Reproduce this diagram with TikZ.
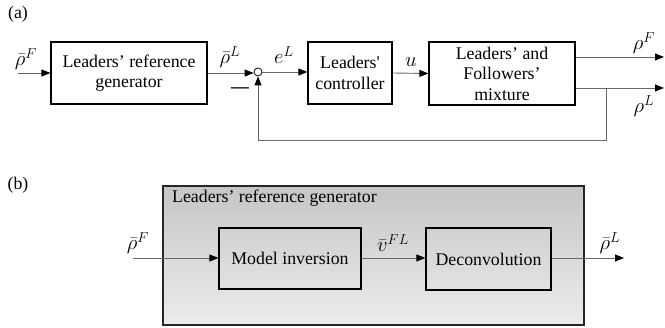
\documentclass[tikz,border=0pt]{standalone}
\usepackage{fontspec}
\setmainfont{Liberation Serif}
\usetikzlibrary{arrows.meta}
\begin{document}
\begin{tikzpicture}[x=1pt,y=-1pt,
  every node/.style={font=\fontsize{17.8}{20.5}\selectfont},
  blk/.style={draw=black,line width=1.2pt,fill=white,inner sep=0pt,align=center},
  sig/.style={draw=gray!80!black,line width=0.9pt},
  arr/.style={sig,-{Triangle[color=black,length=9pt,width=7pt]}},
  lbl/.style={inner sep=0pt},
  mlbl/.style={inner sep=0pt,font=\fontsize{21.5}{24}\selectfont}]
\useasboundingbox (0,0) rectangle (665,328);
% (a)
\node[lbl] (la) at (18,14) {(a)};
\node[blk,minimum width=156pt,minimum height=62pt] (gen) at (129,73) {Leaders’ reference\\generator};
\node[draw=black,line width=0.8pt,circle,minimum size=8pt,inner sep=0pt,fill=white] (sum) at (258,72) {};
\node[blk,minimum width=84pt,minimum height=62pt] (ctrl) at (350,73) {Leaders\textquotesingle\\controller};
\node[blk,minimum width=146pt,minimum height=63pt] (mix) at (502,73.5) {Leaders’ and\\Followers’\\mixture};
\coordinate (in) at (18,73);
\coordinate (oF) at (664,57);
\coordinate (oL) at (664,88);
\coordinate (br) at (606,88);
\draw[arr] (in) -- (gen.west);
\draw[arr] (gen.east) -- (gen.east -| sum.west);
\draw[arr] (sum.east) -- (sum.east -| ctrl.west);
\draw[arr] (ctrl.east) -- (mix.west);
\draw[arr] (mix.east |- oF) -- (oF);
\draw[arr] (mix.east |- oL) -- (oL);
\draw[arr] (br) -- ++(0,52) -| (sum.south);
\node[mlbl] (tFin) at (26,59) {$\bar\rho^F$};
\node[mlbl] (tLout) at (230,57) {$\bar\rho^L$};
\node[lbl] (tminus) at (240,90) {\textbf{---}};
\node[mlbl] (teL) at (284,55) {$e^L$};
\node[mlbl] (tu) at (411,62) {$u$};
\node[mlbl] (tF) at (644,43) {$\rho^F$};
\node[mlbl] (tL) at (644,106) {$\rho^L$};
% (b)
\node[lbl] (lb) at (18,185) {(b)};
\node[draw=black!85,line width=1.2pt,top color=gray!45,bottom color=gray!15,minimum width=421pt,minimum height=139pt,inner sep=0pt] (outer) at (373.5,255.5) {};
\node[lbl,anchor=west] (title) at (172,198) {Leaders’ reference generator};
\node[blk,fill=none,minimum width=142pt,minimum height=61pt] (inv) at (290,258.5) {Model inversion};
\node[blk,fill=none,minimum width=125pt,minimum height=62pt] (dec) at (488.5,259) {Deconvolution};
\coordinate (in2) at (133,258);
\coordinate (out2) at (624,258);
\draw[arr] (in2) -- (in2 -| inv.west);
\draw[arr] (inv.east |- in2) -- (in2 -| dec.west);
\draw[arr] (dec.east |- in2) -- (out2);
\node[mlbl] (tFb) at (138,243) {$\bar\rho^F$};
\node[mlbl] (tv) at (393,243) {$\bar v^{FL}$};
\node[mlbl] (tLb) at (610,243) {$\bar\rho^L$};
\end{tikzpicture}
\end{document}
